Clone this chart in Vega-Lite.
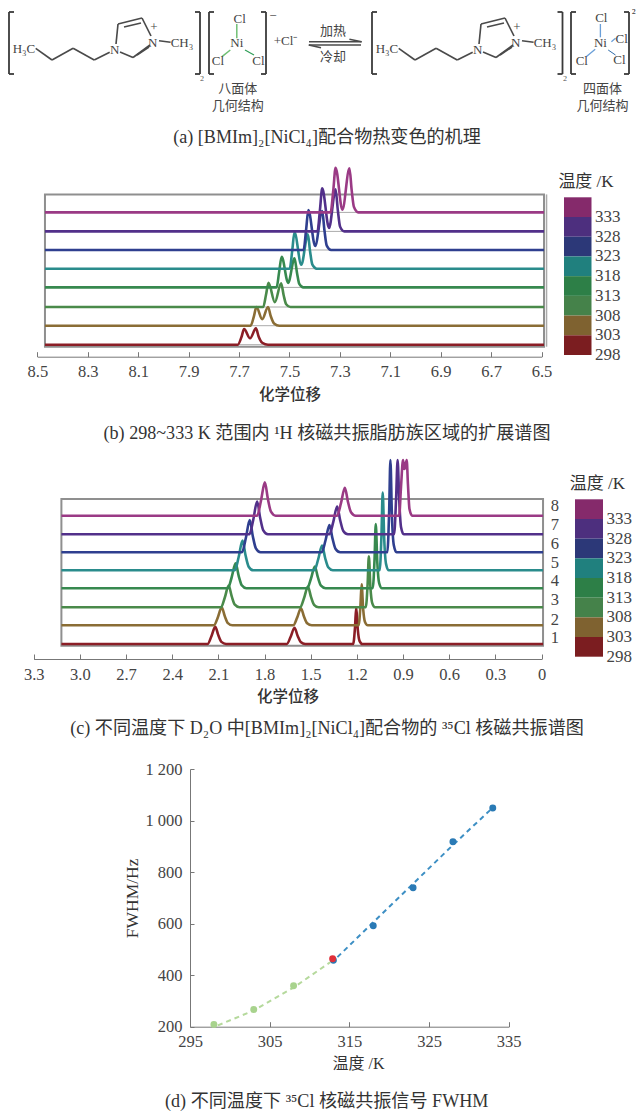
{
"$schema":"https://vega.github.io/schema/vega-lite/v6.json",
"width":637,"height":1111,"autosize":{"type":"none"},"padding":0,"background":"white",
"config":{"view":{"stroke":null},"axis":{"grid":false,"domainColor":"#777","tickColor":"#777","labelColor":"#444","titleColor":"#333","labelFont":"Liberation Serif","labelFontSize":16.5,"titleFont":"Noto Sans CJK SC","titleFontSize":15.5,"titleFontWeight":500,"labelOverlap":false,"labelFlush":false}},
"datasets":{
"page":[
{"s":"(a) [BMIm]₂[NiCl₄]配合物热变色的机理","x":327,"y":138},
{"s":"(b) 298~333 K 范围内 ¹H 核磁共振脂肪族区域的扩展谱图","x":327,"y":434},
{"s":"(c) 不同温度下 D₂O 中[BMIm]₂[NiCl₄]配合物的 ³⁵Cl 核磁共振谱图","x":327,"y":729.3},
{"s":"(d) 不同温度下 ³⁵Cl 核磁共振信号 FWHM","x":326.7,"y":1101.7}],
"atoms":[
{"s":"H₃C","x":24,"y":49},{"s":"N","x":114.6,"y":50},{"s":"N","x":152.8,"y":43},{"s":"+","x":154,"y":27},{"s":"CH₃","x":182,"y":43.3},
{"s":"H₃C","x":387,"y":49},{"s":"N","x":477.6,"y":50},{"s":"N","x":515.8,"y":43},{"s":"+","x":517,"y":27},{"s":"CH₃","x":545,"y":43.3},
{"s":"Cl","x":239.7,"y":19.3},{"s":"Ni","x":236.8,"y":43.3},{"s":"Cl","x":218,"y":60.7},{"s":"Cl","x":258.4,"y":61},
{"s":"−","x":273,"y":15.7},{"s":"+Cl⁻","x":285.6,"y":40.7},{"s":"₂","x":202,"y":74},{"s":"₂","x":565,"y":74},{"s":"²","x":633.8,"y":13},
{"s":"Cl","x":601.3,"y":18.3},{"s":"Ni","x":600.4,"y":42.7},{"s":"Cl","x":621.6,"y":39.3},{"s":"Cl","x":581.8,"y":61},{"s":"Cl","x":619.5,"y":60},
{"s":"加热","x":333,"y":30.7},{"s":"冷却","x":333,"y":56.7},
{"s":"八面体","x":237.7,"y":89.3},{"s":"几何结构","x":237.7,"y":105.7},{"s":"四面体","x":602.5,"y":89.3},{"s":"几何结构","x":602.5,"y":105.7}],
"bonds":[
{"k":"bracket","x":14,"x2":9,"y":12,"y2":12},{"k":"bracket","x":9,"x2":9,"y":12,"y2":74},{"k":"bracket","x":9,"x2":14,"y":74,"y2":74},
{"k":"bracket","x":195,"x2":200,"y":12,"y2":12},{"k":"bracket","x":200,"x2":200,"y":12,"y2":74},{"k":"bracket","x":195,"x2":200,"y":74,"y2":74},
{"k":"bracket","x":214,"x2":209,"y":12,"y2":12},{"k":"bracket","x":209,"x2":209,"y":12,"y2":74},{"k":"bracket","x":209,"x2":214,"y":74,"y2":74},
{"k":"bracket","x":261,"x2":266,"y":12,"y2":12},{"k":"bracket","x":266,"x2":266,"y":12,"y2":74},{"k":"bracket","x":261,"x2":266,"y":74,"y2":74},
{"k":"bracket","x":377,"x2":372,"y":12,"y2":12},{"k":"bracket","x":372,"x2":372,"y":12,"y2":74},{"k":"bracket","x":372,"x2":377,"y":74,"y2":74},
{"k":"bracket","x":557.5,"x2":562.5,"y":12,"y2":12},{"k":"bracket","x":562.5,"x2":562.5,"y":12,"y2":74},{"k":"bracket","x":557.5,"x2":562.5,"y":74,"y2":74},
{"k":"bracket","x":576,"x2":571,"y":12,"y2":12},{"k":"bracket","x":571,"x2":571,"y":12,"y2":74},{"k":"bracket","x":571,"x2":576,"y":74,"y2":74},
{"k":"bracket","x":624,"x2":629,"y":12,"y2":12},{"k":"bracket","x":629,"x2":629,"y":12,"y2":74},{"k":"bracket","x":624,"x2":629,"y":74,"y2":74},
{"k":"bond","x":35.7,"x2":52,"y":48.3,"y2":60},{"k":"bond","x":52,"x2":73.1,"y":60,"y2":48.3},{"k":"bond","x":73.1,"x2":94.2,"y":48.3,"y2":60},{"k":"bond","x":94.2,"x2":109.7,"y":60,"y2":52.3},
{"k":"bond","x":116,"x2":118,"y":44,"y2":24},{"k":"bond","x":118,"x2":142,"y":24,"y2":18},{"k":"bond","x":124,"x2":141,"y":27,"y2":23},{"k":"bond","x":142,"x2":151,"y":18,"y2":36},{"k":"bond","x":120,"x2":133,"y":52,"y2":57.5},{"k":"bond","x":133,"x2":150,"y":57.5,"y2":45},{"k":"bond","x":137,"x2":149,"y":55,"y2":47},{"k":"bond","x":159,"x2":170.6,"y":40.7,"y2":42.3},
{"k":"bond","x":398.7,"x2":415,"y":48.3,"y2":60},{"k":"bond","x":415,"x2":436.1,"y":60,"y2":48.3},{"k":"bond","x":436.1,"x2":457.2,"y":48.3,"y2":60},{"k":"bond","x":457.2,"x2":472.7,"y":60,"y2":52.3},
{"k":"bond","x":479,"x2":481,"y":44,"y2":24},{"k":"bond","x":481,"x2":505,"y":24,"y2":18},{"k":"bond","x":487,"x2":504,"y":27,"y2":23},{"k":"bond","x":505,"x2":514,"y":18,"y2":36},{"k":"bond","x":483,"x2":496,"y":52,"y2":57.5},{"k":"bond","x":496,"x2":513,"y":57.5,"y2":45},{"k":"bond","x":500,"x2":512,"y":55,"y2":47},{"k":"bond","x":522,"x2":533.6,"y":40.7,"y2":42.3},
{"k":"bond","x":309,"x2":361.6,"y":41.7,"y2":41.7},{"k":"bond","x":361.6,"x2":349.4,"y":41.7,"y2":39.3},{"k":"bond","x":308.8,"x2":361,"y":45,"y2":45},{"k":"bond","x":308.8,"x2":321,"y":45,"y2":47.7},
{"k":"green","x":236.8,"x2":236.8,"y":24,"y2":38.3},{"k":"green","x":230.3,"x2":222,"y":50,"y2":56.7},{"k":"greenwedge","x":245,"x2":254,"y":50,"y2":55},
{"k":"blue","x":600.4,"x2":600.4,"y":24,"y2":37.3},{"k":"blue","x":611.4,"x2":615.5,"y":41.7,"y2":38.3},{"k":"blue","x":595.2,"x2":586.2,"y":49.3,"y2":56.7},{"k":"bluewedge","x":608.2,"x2":615.5,"y":50,"y2":55}],
"legend":[{"T":333,"top":338},{"T":328,"top":333},{"T":323,"top":328},{"T":318,"top":323},{"T":313,"top":318},{"T":308,"top":313},{"T":303,"top":308},{"T":298,"top":303}],
"bbase":[{"t":298,"y":12},{"t":303,"y":31},{"t":308,"y":49.7},{"t":313,"y":69.3},{"t":318,"y":88},{"t":323,"y":106.7},{"t":328,"y":125.3},{"t":333,"y":144.3}],
"b":[
{"t":298,"x":8.47,"y":12},{"t":298,"x":7.705,"y":12},{"t":298,"x":7.69,"y":19.9},{"t":298,"x":7.68,"y":27.7},{"t":298,"x":7.656,"y":18.4},{"t":298,"x":7.633,"y":28.3},{"t":298,"x":7.622,"y":20},{"t":298,"x":7.608,"y":14},{"t":298,"x":7.585,"y":12},{"t":298,"x":6.49,"y":12},
{"t":303,"x":8.47,"y":31},{"t":303,"x":7.654,"y":31},{"t":303,"x":7.641,"y":40.4},{"t":303,"x":7.631,"y":49.7},{"t":303,"x":7.608,"y":37.5},{"t":303,"x":7.585,"y":49.7},{"t":303,"x":7.574,"y":40.4},{"t":303,"x":7.561,"y":33.2},{"t":303,"x":7.54,"y":31},{"t":303,"x":6.49,"y":31},
{"t":308,"x":8.47,"y":49.7},{"t":308,"x":7.604,"y":49.7},{"t":308,"x":7.593,"y":61.9},{"t":308,"x":7.583,"y":74},{"t":308,"x":7.558,"y":54.5},{"t":308,"x":7.533,"y":73.4},{"t":308,"x":7.523,"y":61.5},{"t":308,"x":7.513,"y":52.5},{"t":308,"x":7.496,"y":49.7},{"t":308,"x":6.49,"y":49.7},
{"t":313,"x":8.47,"y":69.3},{"t":313,"x":7.551,"y":69.3},{"t":313,"x":7.541,"y":84.6},{"t":313,"x":7.531,"y":100},{"t":313,"x":7.505,"y":73.8},{"t":313,"x":7.48,"y":98.3},{"t":313,"x":7.47,"y":83.8},{"t":313,"x":7.461,"y":72.8},{"t":313,"x":7.445,"y":69.3},{"t":313,"x":6.49,"y":69.3},
{"t":318,"x":8.47,"y":88},{"t":318,"x":7.499,"y":88},{"t":318,"x":7.489,"y":106},{"t":318,"x":7.48,"y":124.3},{"t":318,"x":7.453,"y":92},{"t":318,"x":7.427,"y":122.3},{"t":318,"x":7.418,"y":105},{"t":318,"x":7.409,"y":92},{"t":318,"x":7.392,"y":88},{"t":318,"x":6.49,"y":88},
{"t":323,"x":8.47,"y":106.7},{"t":323,"x":7.444,"y":106.7},{"t":323,"x":7.434,"y":126.7},{"t":323,"x":7.425,"y":146.7},{"t":323,"x":7.398,"y":110.7},{"t":323,"x":7.37,"y":145.7},{"t":323,"x":7.361,"y":126},{"t":323,"x":7.352,"y":111},{"t":323,"x":7.335,"y":106.7},{"t":323,"x":6.49,"y":106.7},
{"t":328,"x":8.47,"y":125.3},{"t":328,"x":7.389,"y":125.3},{"t":328,"x":7.379,"y":146.8},{"t":328,"x":7.37,"y":168.3},{"t":328,"x":7.343,"y":128.7},{"t":328,"x":7.317,"y":167.3},{"t":328,"x":7.308,"y":146.3},{"t":328,"x":7.299,"y":130},{"t":328,"x":7.282,"y":125.3},{"t":328,"x":6.49,"y":125.3},
{"t":333,"x":8.47,"y":144.3},{"t":333,"x":7.337,"y":144.3},{"t":333,"x":7.326,"y":166.6},{"t":333,"x":7.317,"y":189},{"t":333,"x":7.29,"y":147},{"t":333,"x":7.262,"y":188.3},{"t":333,"x":7.253,"y":166.3},{"t":333,"x":7.244,"y":149.6},{"t":333,"x":7.227,"y":144.3},{"t":333,"x":6.49,"y":144.3}],
"c":[
{"t":298,"x":3.12,"y":15},{"t":298,"x":2.17,"y":15},{"t":298,"x":2.145,"y":22.8},{"t":298,"x":2.12,"y":32.3},{"t":298,"x":2.1,"y":23.7},{"t":298,"x":2.08,"y":17.1},{"t":298,"x":2.05,"y":15},{"t":298,"x":1.655,"y":15},{"t":298,"x":1.63,"y":22.3},{"t":298,"x":1.605,"y":31.3},{"t":298,"x":1.585,"y":23.2},{"t":298,"x":1.565,"y":17},{"t":298,"x":1.535,"y":15},{"t":298,"x":1.224,"y":15},{"t":298,"x":1.212,"y":31.5},{"t":298,"x":1.204,"y":51.7},{"t":298,"x":1.194,"y":29.7},{"t":298,"x":1.182,"y":17.9},{"t":298,"x":1.164,"y":15},{"t":298,"x":-0.01,"y":15},
{"t":303,"x":3.12,"y":33.7},{"t":303,"x":2.128,"y":33.7},{"t":303,"x":2.103,"y":41.8},{"t":303,"x":2.078,"y":51.7},{"t":303,"x":2.058,"y":42.7},{"t":303,"x":2.038,"y":35.9},{"t":303,"x":2.008,"y":33.7},{"t":303,"x":1.613,"y":33.7},{"t":303,"x":1.588,"y":41.4},{"t":303,"x":1.563,"y":50.7},{"t":303,"x":1.543,"y":42.2},{"t":303,"x":1.523,"y":35.7},{"t":303,"x":1.493,"y":33.7},{"t":303,"x":1.189,"y":33.7},{"t":303,"x":1.177,"y":52.2},{"t":303,"x":1.169,"y":74.7},{"t":303,"x":1.159,"y":50.1},{"t":303,"x":1.147,"y":37},{"t":303,"x":1.129,"y":33.7},{"t":303,"x":-0.01,"y":33.7},
{"t":308,"x":3.12,"y":51.7},{"t":308,"x":2.083,"y":51.7},{"t":308,"x":2.058,"y":61.5},{"t":308,"x":2.033,"y":73.4},{"t":308,"x":2.013,"y":62.6},{"t":308,"x":1.993,"y":54.3},{"t":308,"x":1.963,"y":51.7},{"t":308,"x":1.568,"y":51.7},{"t":308,"x":1.543,"y":61},{"t":308,"x":1.518,"y":72.4},{"t":308,"x":1.498,"y":62.1},{"t":308,"x":1.478,"y":54.2},{"t":308,"x":1.448,"y":51.7},{"t":308,"x":1.142,"y":51.7},{"t":308,"x":1.13,"y":74.7},{"t":308,"x":1.122,"y":102.7},{"t":308,"x":1.112,"y":72.1},{"t":308,"x":1.1,"y":55.8},{"t":308,"x":1.082,"y":51.7},{"t":308,"x":-0.01,"y":51.7},
{"t":313,"x":3.12,"y":70.7},{"t":313,"x":2.038,"y":70.7},{"t":313,"x":2.013,"y":82},{"t":313,"x":1.988,"y":95.7},{"t":313,"x":1.968,"y":83.2},{"t":313,"x":1.948,"y":73.7},{"t":313,"x":1.918,"y":70.7},{"t":313,"x":1.523,"y":70.7},{"t":313,"x":1.498,"y":80.5},{"t":313,"x":1.473,"y":92.4},{"t":313,"x":1.453,"y":81.6},{"t":313,"x":1.433,"y":73.3},{"t":313,"x":1.403,"y":70.7},{"t":313,"x":1.097,"y":70.7},{"t":313,"x":1.085,"y":99.6},{"t":313,"x":1.077,"y":135},{"t":313,"x":1.067,"y":96.4},{"t":313,"x":1.055,"y":75.8},{"t":313,"x":1.037,"y":70.7},{"t":313,"x":-0.01,"y":70.7},
{"t":318,"x":3.12,"y":88.7},{"t":318,"x":1.993,"y":88.7},{"t":318,"x":1.968,"y":102},{"t":318,"x":1.943,"y":118.4},{"t":318,"x":1.923,"y":103.5},{"t":318,"x":1.903,"y":92.3},{"t":318,"x":1.873,"y":88.7},{"t":318,"x":1.476,"y":88.7},{"t":318,"x":1.451,"y":99.8},{"t":318,"x":1.426,"y":113.4},{"t":318,"x":1.406,"y":101},{"t":318,"x":1.386,"y":91.7},{"t":318,"x":1.356,"y":88.7},{"t":318,"x":1.052,"y":88.7},{"t":318,"x":1.04,"y":123.7},{"t":318,"x":1.032,"y":166.4},{"t":318,"x":1.022,"y":119.8},{"t":318,"x":1.01,"y":94.9},{"t":318,"x":0.992,"y":88.7},{"t":318,"x":-0.01,"y":88.7},
{"t":323,"x":3.12,"y":106.7},{"t":323,"x":1.946,"y":106.7},{"t":323,"x":1.921,"y":121.2},{"t":323,"x":1.896,"y":139},{"t":323,"x":1.876,"y":122.8},{"t":323,"x":1.856,"y":110.6},{"t":323,"x":1.826,"y":106.7},{"t":323,"x":1.428,"y":106.7},{"t":323,"x":1.403,"y":119},{"t":323,"x":1.378,"y":134},{"t":323,"x":1.358,"y":120.4},{"t":323,"x":1.338,"y":110},{"t":323,"x":1.308,"y":106.7},{"t":323,"x":1.002,"y":106.7},{"t":323,"x":0.99,"y":148},{"t":323,"x":0.982,"y":199},{"t":323,"x":0.972,"y":143},{"t":323,"x":0.96,"y":114},{"t":323,"x":0.942,"y":106.7},{"t":323,"x":-0.01,"y":106.7},
{"t":328,"x":3.12,"y":124.7},{"t":328,"x":1.898,"y":124.7},{"t":328,"x":1.873,"y":139.4},{"t":328,"x":1.848,"y":157.4},{"t":328,"x":1.828,"y":141},{"t":328,"x":1.808,"y":128.6},{"t":328,"x":1.778,"y":124.7},{"t":328,"x":1.378,"y":124.7},{"t":328,"x":1.353,"y":137.2},{"t":328,"x":1.328,"y":152.4},{"t":328,"x":1.308,"y":138.5},{"t":328,"x":1.288,"y":128},{"t":328,"x":1.258,"y":124.7},{"t":328,"x":0.958,"y":124.7},{"t":328,"x":0.945,"y":160},{"t":328,"x":0.935,"y":199},{"t":328,"x":0.925,"y":160},{"t":328,"x":0.913,"y":132},{"t":328,"x":0.895,"y":124.7},{"t":328,"x":-0.01,"y":124.7},
{"t":333,"x":3.12,"y":143.3},{"t":333,"x":1.848,"y":143.3},{"t":333,"x":1.823,"y":158.3},{"t":333,"x":1.798,"y":176.6},{"t":333,"x":1.778,"y":160},{"t":333,"x":1.758,"y":147.3},{"t":333,"x":1.728,"y":143.3},{"t":333,"x":1.328,"y":143.3},{"t":333,"x":1.303,"y":155.9},{"t":333,"x":1.278,"y":171.3},{"t":333,"x":1.258,"y":157.3},{"t":333,"x":1.238,"y":146.7},{"t":333,"x":1.208,"y":143.3},{"t":333,"x":0.925,"y":143.3},{"t":333,"x":0.913,"y":172},{"t":333,"x":0.9,"y":199},{"t":333,"x":0.89,"y":190},{"t":333,"x":0.876,"y":199},{"t":333,"x":0.868,"y":175},{"t":333,"x":0.858,"y":150},{"t":333,"x":0.84,"y":143.3},{"t":333,"x":-0.01,"y":143.3}],
"clabels":[{"n":8,"y":153},{"n":7,"y":134.3},{"n":6,"y":115},{"n":5,"y":96},{"n":4,"y":77.7},{"n":3,"y":58.7},{"n":2,"y":39},{"n":1,"y":20.7}],
"dfit":[{"g":"low","T":298.5,"F":205},{"g":"low","T":303,"F":263},{"g":"low","T":308,"F":352},{"g":"low","T":312.6,"F":450},{"g":"high","T":313.5,"F":470},{"g":"high","T":318,"F":605},{"g":"high","T":323,"F":755},{"g":"high","T":328,"F":905},{"g":"high","T":333,"F":1050}],
"dpts":[{"g":"low","T":298,"F":209},{"g":"low","T":303,"F":267},{"g":"low","T":308,"F":359},{"g":"high","T":313,"F":458},{"g":"mid","T":312.9,"F":464},{"g":"high","T":318,"F":592},{"g":"high","T":323,"F":739},{"g":"high","T":328,"F":918},{"g":"high","T":333,"F":1049}]
},
"layer":[
{"layer":[
{"data":{"name":"bonds"},"mark":{"type":"rule"},"encoding":{
"x":{"field":"x","type":"quantitative","scale":{"domain":[0,637],"range":[0,637],"nice":false},"axis":null},"x2":{"field":"x2"},
"y":{"field":"y","type":"quantitative","scale":{"domain":[0,1111],"range":[0,1111],"nice":false},"axis":null},"y2":{"field":"y2"},
"color":{"field":"k","type":"nominal","legend":null,"scale":{"domain":["bracket","bond","green","blue","greenwedge","bluewedge"],"range":["#3a3a3a","#4a4a4a","#6fbf73","#6a9fd8","#2f9e57","#2d6aa8"]}},
"strokeWidth":{"field":"k","type":"nominal","legend":null,"scale":{"domain":["bracket","bond","green","blue","greenwedge","bluewedge"],"range":[1.8,1,1,1,3,3]}}}},
{"data":{"name":"atoms"},"mark":{"type":"text","font":"Liberation Serif, Noto Sans CJK SC","fontSize":13,"color":"#444"},"encoding":{
"x":{"field":"x","type":"quantitative"},"y":{"field":"y","type":"quantitative"},"text":{"field":"s"}}},
{"data":{"name":"page"},"mark":{"type":"text","font":"Liberation Serif, Noto Sans CJK SC","fontSize":18.1,"color":"#333"},"encoding":{
"x":{"field":"x","type":"quantitative"},"y":{"field":"y","type":"quantitative"},"text":{"field":"s"}}}
]},
{"layer":[
{"data":{"values":[{"x":8.47,"x2":6.49,"y":10,"y2":162.3}]},"mark":{"type":"rect","fill":"white","stroke":"#8f8f8f","strokeWidth":2},"encoding":{
"x":{"field":"x","type":"quantitative","scale":{"domain":[8.5,6.5],"range":[37.4,541.5],"nice":false,"zero":false},
"axis":{"orient":"bottom","offset":-754.3,"values":[8.5,8.3,8.1,7.9,7.7,7.5,7.3,7.1,6.9,6.7,6.5],"format":".1f","tickSize":-5,"labelPadding":12,"title":"化学位移","titlePadding":7}},"x2":{"field":"x2"},
"y":{"field":"y","type":"quantitative","scale":{"domain":[0,190],"range":[356.7,166.7],"nice":false},"axis":null},"y2":{"field":"y2"}}},
{"data":{"values":[{"x":6.48,"y":162.3,"y2":10}]},"mark":{"type":"rule","color":"#aaa","strokeWidth":1.5},"encoding":{"x":{"field":"x","type":"quantitative"},"y":{"field":"y","type":"quantitative"},"y2":{"field":"y2"}}},
{"data":{"name":"bbase"},"mark":{"type":"rule","color":"#aaa","strokeWidth":1},"encoding":{"x":{"datum":8.47,"type":"quantitative"},"x2":{"datum":6.49},"y":{"field":"y","type":"quantitative"}}},
{"data":{"name":"b"},"mark":{"type":"line","interpolate":"monotone","strokeWidth":2.6},"encoding":{
"x":{"field":"x","type":"quantitative"},"y":{"field":"y","type":"quantitative"},
"color":{"field":"t","type":"nominal","legend":null,"scale":{"domain":[333,328,323,318,313,308,303,298],"range":["#9a3a85","#52308a","#2f3f8f","#2a8c8c","#37894f","#4a8a4a","#8a6d35","#8b1e26"]}}}}
]},
{"layer":[
{"data":{"name":"legend"},"mark":{"type":"rect"},"encoding":{
"x":{"datum":0,"type":"quantitative","scale":{"domain":[0,1],"range":[564,591.5],"nice":false},"axis":null},"x2":{"datum":1},
"y":{"field":"T","type":"quantitative","scale":{"domain":[298,338],"range":[355,197.3],"nice":false,"zero":false},"axis":null},"y2":{"field":"top"},
"color":{"field":"T","type":"nominal","legend":null,"scale":{"domain":[333,328,323,318,313,308,303,298],"range":["#852a6b","#4d2f7e","#2c3878","#20807e","#2d7f47","#45824a","#7f6230","#7b1d20"]}}}},
{"data":{"name":"legend"},"mark":{"type":"text","align":"left","dx":3.5,"font":"Liberation Serif","fontSize":17,"color":"#444"},"encoding":{"x":{"datum":1,"type":"quantitative"},"y":{"field":"T","type":"quantitative"},"text":{"field":"T"}}},
{"data":{"values":[{"s":"温度 /K"}]},"mark":{"type":"text","font":"Liberation Serif, Noto Sans CJK SC","fontSize":17,"color":"#333"},"encoding":{"x":{"datum":0.8,"type":"quantitative"},"y":{"datum":342,"type":"quantitative"},"text":{"field":"s"}}}
]},
{"layer":[
{"data":{"values":[{"x":3.12,"x2":-0.01,"y":13.3,"y2":160}]},"mark":{"type":"rect","fill":"white","stroke":"#8f8f8f","strokeWidth":2},"encoding":{
"x":{"field":"x","type":"quantitative","scale":{"domain":[3.3,0],"range":[33.7,541.5],"nice":false},
"axis":{"orient":"bottom","offset":-452,"values":[3.3,3,2.7,2.4,2.1,1.8,1.5,1.2,0.9,0.6,0.3,0],"labelExpr":"datum.value==0?'0':format(datum.value,'.1f')","tickSize":-5,"labelPadding":12,"title":"化学位移","titlePadding":7}},"x2":{"field":"x2"},
"y":{"field":"y","type":"quantitative","scale":{"domain":[0,199],"range":[659,460],"nice":false},"axis":null},"y2":{"field":"y2"}}},
{"data":{"name":"c"},"mark":{"type":"line","interpolate":"monotone","strokeWidth":2.6},"encoding":{
"x":{"field":"x","type":"quantitative"},"y":{"field":"y","type":"quantitative"},
"color":{"field":"t","type":"nominal","legend":null,"scale":{"domain":[333,328,323,318,313,308,303,298],"range":["#9a3a85","#52308a","#2f3f8f","#2a8c8c","#37894f","#4a8a4a","#8a6d35","#8b1e26"]}}}},
{"data":{"name":"clabels"},"mark":{"type":"text","font":"Liberation Serif","fontSize":16.5,"color":"#444"},"encoding":{"x":{"datum":-0.087,"type":"quantitative"},"y":{"field":"y","type":"quantitative"},"text":{"field":"n"}}}
]},
{"layer":[
{"data":{"name":"legend"},"mark":{"type":"rect"},"encoding":{
"x":{"datum":0,"type":"quantitative","scale":{"domain":[0,1],"range":[575,603],"nice":false},"axis":null},"x2":{"datum":1},
"y":{"field":"T","type":"quantitative","scale":{"domain":[298,338],"range":[656.7,499.3],"nice":false,"zero":false},"axis":null},"y2":{"field":"top"},
"color":{"field":"T","type":"nominal","legend":null,"scale":{"domain":[333,328,323,318,313,308,303,298],"range":["#852a6b","#4d2f7e","#2c3878","#20807e","#2d7f47","#45824a","#7f6230","#7b1d20"]}}}},
{"data":{"name":"legend"},"mark":{"type":"text","align":"left","dx":3.5,"font":"Liberation Serif","fontSize":17,"color":"#444"},"encoding":{"x":{"datum":1,"type":"quantitative"},"y":{"field":"T","type":"quantitative"},"text":{"field":"T"}}},
{"data":{"values":[{"s":"温度 /K"}]},"mark":{"type":"text","font":"Liberation Serif, Noto Sans CJK SC","fontSize":17,"color":"#333"},"encoding":{"x":{"datum":0.8,"type":"quantitative"},"y":{"datum":342,"type":"quantitative"},"text":{"field":"s"}}}
]},
{"layer":[
{"data":{"name":"dfit"},"mark":{"type":"line","strokeWidth":2,"strokeDash":[5,4]},"encoding":{
"x":{"field":"T","type":"quantitative","scale":{"domain":[295,335],"range":[190,508.7],"nice":false,"zero":false},
"axis":{"orient":"bottom","offset":-84.3,"values":[295,305,315,325,335],"tickSize":-5,"labelPadding":12,"title":"温度 /K","titleX":358,"titleFont":"Liberation Serif, Noto Sans CJK SC","titleFontWeight":400,"titleFontSize":16,"titlePadding":5}},
"y":{"field":"F","type":"quantitative","scale":{"domain":[200,1200],"range":[1026.7,769],"nice":false,"zero":false},
"axis":{"orient":"left","offset":-190,"values":[200,400,600,800,1000,1200],"labelExpr":"datum.value>=1000?replace(format(datum.value,','),',',' '):datum.label","tickSize":-4,"labelPadding":12,"labelBaseline":"middle","title":"FWHM/Hz","titleFont":"Liberation Serif","titleFontWeight":400,"titleFontSize":17.5,"titlePadding":3}},
"color":{"field":"g","type":"nominal","legend":null,"scale":{"domain":["low","high"],"range":["#b5d99c","#3d8fc4"]}}}},
{"data":{"name":"dpts"},"mark":{"type":"point","filled":true,"opacity":1,"size":48},"encoding":{
"x":{"field":"T","type":"quantitative"},"y":{"field":"F","type":"quantitative"},
"color":{"field":"g","type":"nominal","legend":null,"scale":{"domain":["low","high","mid"],"range":["#a8d38d","#2a7ab5","#e0303a"]}}}}
],"resolve":{"scale":{"color":"independent"}}}
],
"resolve":{"scale":{"x":"independent","y":"independent","color":"independent","strokeWidth":"independent"},"axis":{"x":"independent","y":"independent"}}
}
